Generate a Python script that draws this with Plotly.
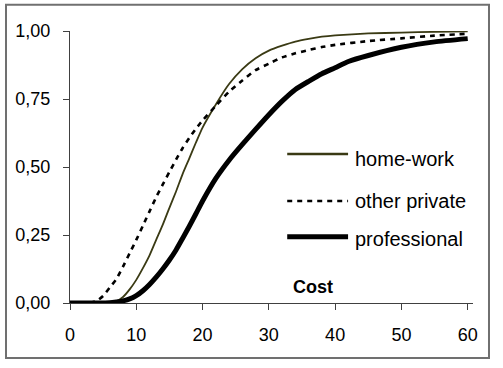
import plotly.graph_objects as go

# ---- data ----
cost_hw = [0, 2, 4, 6, 7, 8, 9, 10, 11, 12, 13, 14, 15, 16, 17, 18, 19, 20, 22, 24, 26, 28, 30, 32, 34, 36, 38, 40, 45, 50, 55, 60]
home_work = [0, 0, 0, 0.001, 0.006, 0.022, 0.05, 0.085, 0.128, 0.175, 0.232, 0.288, 0.35, 0.41, 0.475, 0.532, 0.59, 0.645,
             0.73, 0.805, 0.86, 0.90, 0.928, 0.946, 0.961, 0.971, 0.979, 0.984, 0.991, 0.994, 0.997, 0.999]

cost_op = [0, 2, 3, 4, 5, 6, 7, 8, 9, 10, 11, 12, 13, 14, 15, 16, 17, 18, 19, 20, 22, 24, 26, 28, 30, 32, 34, 36, 38, 40, 45, 50, 55, 60]
other_private = [0, 0, 0.001, 0.007, 0.026, 0.057, 0.088, 0.134, 0.183, 0.232, 0.284, 0.337, 0.389, 0.436, 0.482, 0.527, 0.57,
                 0.607, 0.641, 0.671, 0.725, 0.777, 0.818, 0.856, 0.88, 0.903, 0.918, 0.93, 0.941, 0.949, 0.963, 0.973, 0.983, 0.99]

cost_pr = [0, 4, 6, 7, 8, 9, 10, 11, 12, 13, 14, 15, 16, 17, 18, 19, 20, 22, 24, 26, 28, 30, 32, 34, 36, 38, 40, 42, 45, 50, 55, 60]
professional = [0, 0, 0.001, 0.004, 0.008, 0.015, 0.027, 0.045, 0.068, 0.095, 0.125, 0.158, 0.195, 0.238, 0.282, 0.328, 0.375,
                0.458, 0.525, 0.583, 0.638, 0.692, 0.742, 0.785, 0.815, 0.843, 0.865, 0.888, 0.91, 0.94, 0.96, 0.972]

series_names = ["home-work", "other private", "professional"]
x_ticks = [0, 10, 20, 30, 40, 50, 60]
y_ticks = [0, 0.25, 0.5, 0.75, 1.0]
x_title = "Cost"

FONT = "Liberation Sans, Arial, sans-serif"
OLIVE = "#3a3a14"

styles = [
    dict(color=OLIVE, width=1.8, dash="solid"),
    dict(color="black", width=2.6, dash="5px,5px"),
    dict(color="black", width=5, dash="solid"),
]

fig = go.Figure()
for xs, ys, name, st in zip([cost_hw, cost_op, cost_pr], [home_work, other_private, professional], series_names, styles):
    fig.add_trace(go.Scatter(x=xs, y=ys, mode="lines", name=name,
                             line=dict(color=st["color"], width=st["width"], dash=st["dash"], shape="spline", smoothing=0.5),
                             showlegend=False))

axis_common = dict(showline=True, linecolor="#404040", linewidth=1.3, ticks="outside", ticklen=6,
                   tickcolor="#404040", tickwidth=1.3, showgrid=False, zeroline=False,
                   tickfont=dict(family=FONT, size=18, color="black"))

fig.update_layout(
    width=503, height=368,
    margin=dict(l=70, r=30, t=31, b=65),
    paper_bgcolor="white", plot_bgcolor="white",
    separators=", ",
    xaxis=dict(range=[0, 60.8], tickvals=x_ticks, ticklabelstandoff=9, **axis_common),
    yaxis=dict(range=[0, 1], tickvals=y_ticks, tickformat=".2f", ticklabelstandoff=9, **axis_common),
    showlegend=False,
)

# outer border of the chart
fig.add_shape(type="rect", xref="paper", yref="paper",
              x0=-0.1588, x1=1.0397, y0=-0.202, y1=1.0967,
              line=dict(color="#707070", width=2), fillcolor="rgba(0,0,0,0)", layer="below")

# legend (drawn inside the plot area)
leg_line_y = [0.548, 0.375, 0.244]
leg_text_y = [0.529, 0.376, 0.235]
for name, st, ly, ty in zip(series_names, styles, leg_line_y, leg_text_y):
    fig.add_shape(type="line", xref="paper", yref="paper", x0=0.539, x1=0.690, y0=ly, y1=ly,
                  line=dict(color=st["color"], width=st["width"] + (0.7 if st["width"] < 2 else 0), dash=st["dash"]))
    fig.add_annotation(xref="paper", yref="paper", x=0.7015, y=ty, text=name, showarrow=False,
                       xanchor="left", yanchor="middle", font=dict(family=FONT, size=20, color="black"))

fig.add_annotation(xref="paper", yref="paper", x=0.6037, y=0.0588, text="<b>" + x_title + "</b>", showarrow=False,
                   xanchor="center", yanchor="middle", font=dict(family=FONT, size=18, color="black"))

fig.write_html("out.html", config={"displayModeBar": False},
               post_script="document.body.style.margin='0px';")
